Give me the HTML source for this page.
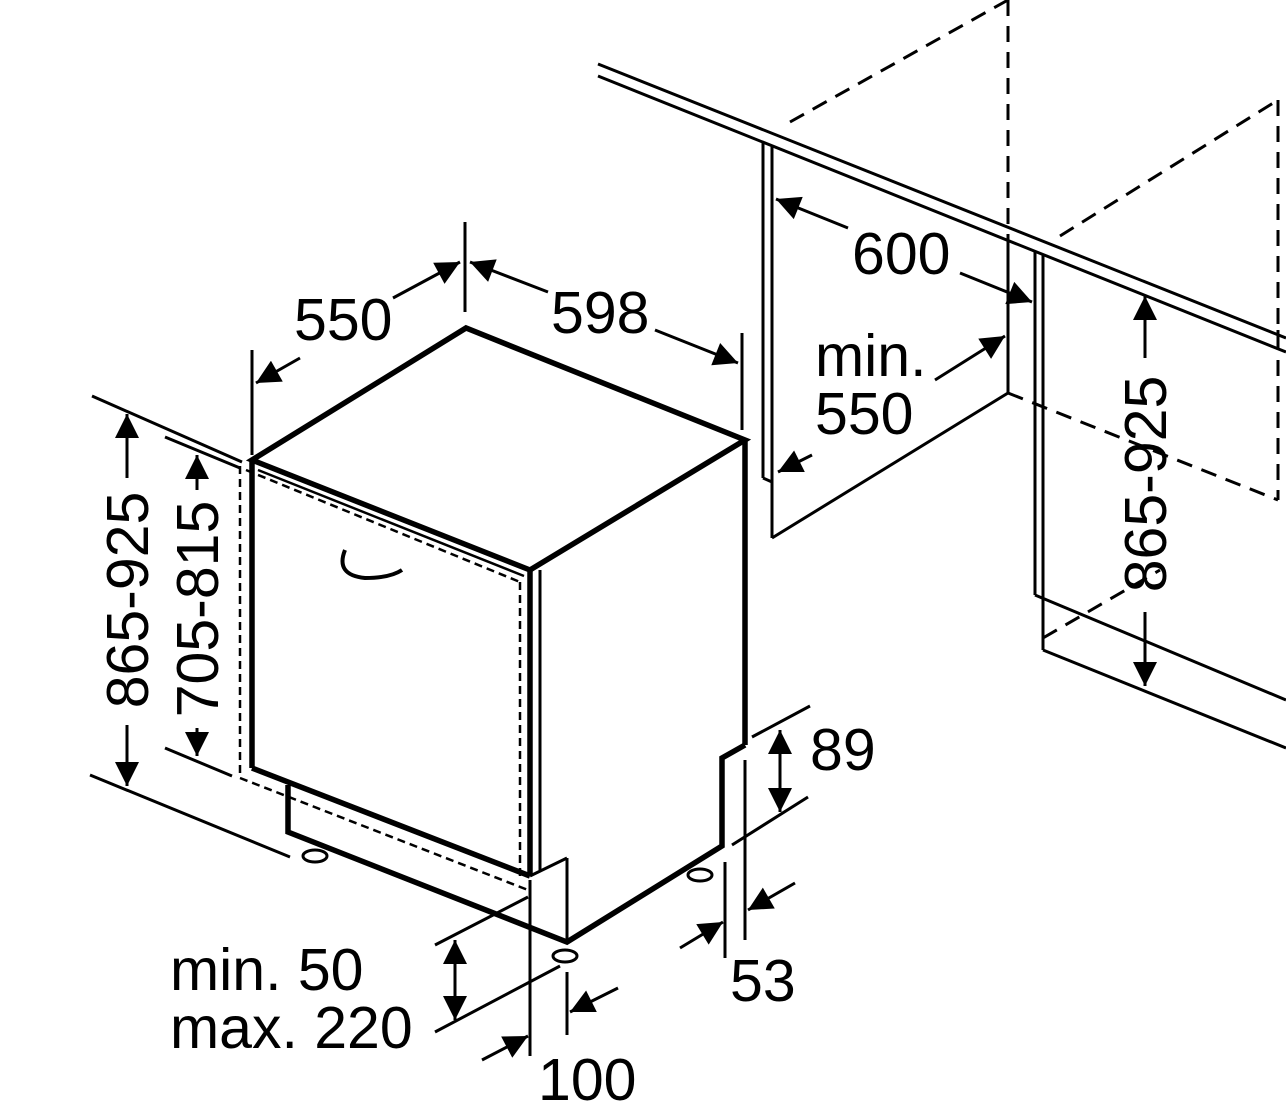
<!DOCTYPE html>
<html><head><meta charset="utf-8"><style>
html,body{margin:0;padding:0;background:#fff;}
svg{display:block;}
text{font-family:"Liberation Sans",sans-serif;font-size:59px;fill:#000;}
</style></head><body>
<svg width="1286" height="1113" viewBox="0 0 1286 1113" xmlns="http://www.w3.org/2000/svg">
<defs>
<marker id="b" viewBox="0 0 10 10" refX="10" refY="5" markerWidth="30" markerHeight="24" markerUnits="userSpaceOnUse" orient="auto-start-reverse"><path d="M0,0 L10,5 L0,10 z"/></marker>
</defs>
<g stroke="#000" fill="none" stroke-width="3">
<line x1="598" y1="64" x2="1286" y2="338"/>
<line x1="598" y1="76" x2="1286" y2="352"/>
<line x1="763" y1="142" x2="763" y2="478"/>
<line x1="772" y1="146" x2="772" y2="538"/>
<line x1="763" y1="478" x2="772" y2="482"/>
<line x1="772" y1="538" x2="1008" y2="393"/>
<line x1="1008" y1="240" x2="1008" y2="393"/>
<line x1="1035" y1="252" x2="1035" y2="595"/>
<line x1="1043" y1="255" x2="1043" y2="650"/>
<line x1="1035" y1="595" x2="1286" y2="700"/>
<line x1="1043" y1="650" x2="1286" y2="748"/>
<line x1="1278" y1="330" x2="1278" y2="340"/>
<g stroke-dasharray="16,10">
<line x1="790" y1="122" x2="1008" y2="0"/>
<line x1="1008" y1="0" x2="1008" y2="240"/>
<line x1="1060" y1="236" x2="1278" y2="100"/>
<line x1="1278" y1="100" x2="1278" y2="500"/>
<line x1="1008" y1="393" x2="1278" y2="500"/>
<line x1="1043" y1="638" x2="1160" y2="570"/>
</g>
<g stroke-width="5.5" stroke-linejoin="miter">
<polygon points="252,460 466,328 745,440 530,570"/>
<line x1="252" y1="460" x2="252" y2="768"/>
<line x1="252" y1="768" x2="530" y2="876"/>
<line x1="745" y1="440" x2="745" y2="745"/>
<polyline points="745,745 722,758 722,846 567,942 288,832 288,785"/>
<line x1="530" y1="570" x2="530" y2="876"/>
</g>
<line x1="540" y1="570" x2="540" y2="870" stroke-width="3"/>
<line x1="530" y1="876" x2="567" y2="858"/>
<line x1="567" y1="858" x2="567" y2="942" stroke-width="3"/>
<line x1="258" y1="470" x2="524" y2="576" stroke-width="2.5"/>
<g stroke-dasharray="8,5" stroke-width="2.5">
<line x1="240" y1="466" x2="240" y2="778"/>
<line x1="240" y1="778" x2="528" y2="890"/>
<line x1="520" y1="582" x2="520" y2="880"/>
<line x1="246" y1="470" x2="520" y2="582"/>
</g>
<path d="M345,550 Q335,575 365,578 Q390,578 402,570" stroke-width="4"/>
<ellipse cx="315" cy="856" rx="12" ry="6"/>
<ellipse cx="565" cy="956" rx="12" ry="6"/>
<ellipse cx="700" cy="875" rx="12" ry="6"/>
<line x1="252" y1="350" x2="252" y2="455"/>
<line x1="465" y1="222" x2="465" y2="312"/>
<line x1="742" y1="333" x2="742" y2="430"/>
<line x1="393" y1="298" x2="460" y2="262" marker-end="url(#b)"/>
<line x1="300" y1="358" x2="256" y2="383" marker-end="url(#b)"/>
<line x1="548" y1="292" x2="470" y2="262" marker-end="url(#b)"/>
<line x1="655" y1="330" x2="738" y2="363" marker-end="url(#b)"/>
<line x1="92" y1="396" x2="242" y2="462"/>
<line x1="90" y1="775" x2="290" y2="857"/>
<line x1="165" y1="437" x2="240" y2="468"/>
<line x1="165" y1="748" x2="232" y2="776"/>
<line x1="127" y1="478" x2="127" y2="414" marker-end="url(#b)"/>
<line x1="127" y1="725" x2="127" y2="786" marker-end="url(#b)"/>
<line x1="197" y1="490" x2="197" y2="455" marker-end="url(#b)"/>
<line x1="197" y1="728" x2="197" y2="756" marker-end="url(#b)"/>
<line x1="848" y1="228" x2="776" y2="199" marker-end="url(#b)"/>
<line x1="960" y1="273" x2="1032" y2="302" marker-end="url(#b)"/>
<line x1="935" y1="380" x2="1005" y2="336" marker-end="url(#b)"/>
<line x1="812" y1="455" x2="778" y2="472" marker-end="url(#b)"/>
<line x1="1145" y1="358" x2="1145" y2="296" marker-end="url(#b)"/>
<line x1="1145" y1="612" x2="1145" y2="686" marker-end="url(#b)"/>
<line x1="752" y1="737" x2="810" y2="706"/>
<line x1="732" y1="845" x2="808" y2="797"/>
<line x1="780" y1="770" x2="780" y2="730" marker-end="url(#b)"/>
<line x1="780" y1="770" x2="780" y2="812" marker-end="url(#b)"/>
<line x1="725" y1="862" x2="725" y2="958"/>
<line x1="745" y1="760" x2="745" y2="940"/>
<line x1="680" y1="948" x2="723" y2="922" marker-end="url(#b)"/>
<line x1="795" y1="883" x2="748" y2="910" marker-end="url(#b)"/>
<line x1="435" y1="945" x2="528" y2="897"/>
<line x1="435" y1="1032" x2="560" y2="966"/>
<line x1="455" y1="980" x2="455" y2="940" marker-end="url(#b)"/>
<line x1="455" y1="980" x2="455" y2="1020" marker-end="url(#b)"/>
<line x1="530" y1="880" x2="530" y2="1056"/>
<line x1="567" y1="972" x2="567" y2="1035"/>
<line x1="482" y1="1060" x2="528" y2="1036" marker-end="url(#b)"/>
<line x1="618" y1="988" x2="570" y2="1012" marker-end="url(#b)"/>
</g>
<text x="294" y="340">550</text>
<text x="551" y="333">598</text>
<text x="852" y="274">600</text>
<text x="815" y="376">min.</text>
<text x="815" y="434">550</text>
<text x="810" y="770">89</text>
<text x="730" y="1001">53</text>
<text x="170" y="990">min. 50</text>
<text x="170" y="1048">max. 220</text>
<text x="538" y="1100">100</text>
<text transform="translate(148,600) rotate(-90)" text-anchor="middle">865-925</text>
<text transform="translate(218,609) rotate(-90)" text-anchor="middle">705-815</text>
<text transform="translate(1166,484) rotate(-90)" text-anchor="middle">865-925</text>
</svg>
</body></html>
